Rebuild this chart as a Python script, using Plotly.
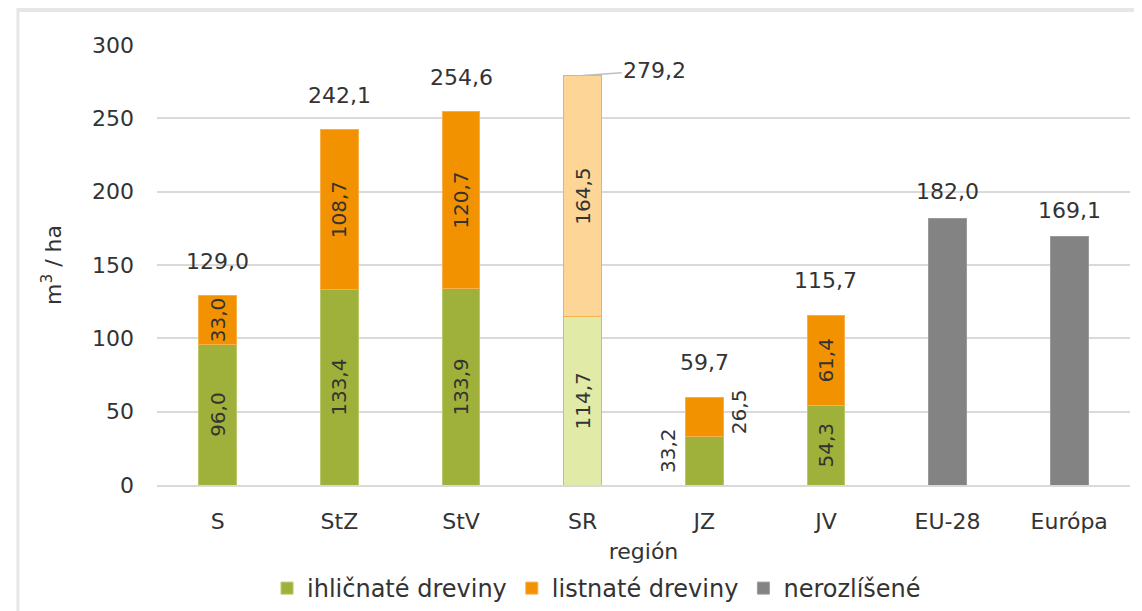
import plotly.graph_objects as go

categories = ["S", "StZ", "StV", "SR", "JZ", "JV", "EU-28", "Európa"]
ihlicnate = [96.0, 133.4, 133.9, 114.7, 33.2, 54.3, None, None]
listnate = [33.0, 108.7, 120.7, 164.5, 26.5, 61.4, None, None]
nerozlisene = [None, None, None, None, None, None, 182.0, 169.1]
totals = [129.0, 242.1, 254.6, 279.2, 59.7, 115.7, 182.0, 169.1]

GREEN = "#9fb13a"
GREEN_LIGHT = "#e1eaa6"
ORANGE = "#f39200"
ORANGE_LIGHT = "#fdd597"
GRAY = "#838383"
TXT = "#333333"
FONT = "DejaVu Sans"

green_cols = [GREEN_LIGHT if c == "SR" else GREEN for c in categories]
orange_cols = [ORANGE_LIGHT if c == "SR" else ORANGE for c in categories]
inside_tpl = ["" if c == "JZ" else "%{y:.1f}" for c in categories]

fig = go.Figure()
fig.add_trace(go.Bar(
    x=categories, y=ihlicnate, name="ihličnaté dreviny",
    marker=dict(color=green_cols, line=dict(color="#b8c86a", width=1)),
    texttemplate=inside_tpl, textposition="inside", textangle=-90,
    insidetextanchor="middle", constraintext="none",
    textfont=dict(size=20, color=TXT, family=FONT),
))
fig.add_trace(go.Bar(
    x=categories, y=listnate, name="listnaté dreviny",
    marker=dict(color=orange_cols, line=dict(color="#f7b04a", width=1)),
    texttemplate=inside_tpl, textposition="inside", textangle=-90,
    insidetextanchor="middle", constraintext="none",
    textfont=dict(size=20, color=TXT, family=FONT),
))
fig.add_trace(go.Bar(
    x=categories, y=nerozlisene, name="nerozlíšené",
    marker=dict(color=GRAY, line=dict(color="#9a9a9a", width=1)),
))

def fmt(v):
    return f"{v:.1f}".replace(".", ",")

annotations = []
for c, t in zip(categories, totals):
    if c == "SR":
        annotations.append(dict(
            x=c, y=t, text=fmt(t), showarrow=True, arrowhead=0, arrowwidth=1.5,
            arrowcolor="#bfbfbf", ax=72, ay=-5, axref="pixel", ayref="pixel",
            font=dict(size=22, color=TXT, family=FONT)))
    else:
        shift = 12 if c in ("EU-28", "Európa") else 20
        annotations.append(dict(
            x=c, y=t, text=fmt(t), showarrow=False, yanchor="bottom",
            yshift=shift, font=dict(size=22, color=TXT, family=FONT)))

# JZ labels outside the bar
jz = categories.index("JZ")
annotations.append(dict(
    x="JZ", y=ihlicnate[jz] / 2, text=fmt(ihlicnate[jz]), showarrow=False,
    textangle=-90, xshift=-37, yshift=10,
    font=dict(size=20, color=TXT, family=FONT)))
annotations.append(dict(
    x="JZ", y=ihlicnate[jz] + listnate[jz] / 2, text=fmt(listnate[jz]),
    showarrow=False, textangle=-90, xshift=35, yshift=5,
    font=dict(size=20, color=TXT, family=FONT)))

fig.update_layout(
    barmode="stack",
    bargap=0.69,
    width=1134, height=603,
    margin=dict(l=149, r=12, t=37, b=126, autoexpand=False),
    paper_bgcolor="white", plot_bgcolor="white",
    separators=", ",
    font=dict(family=FONT, size=21, color=TXT),
    annotations=annotations,
    showlegend=True,
    legend=dict(orientation="h", xref="container", yref="container",
                x=0.519, xanchor="center", y=-0.016, yanchor="bottom",
                font=dict(size=24, color=TXT, family=FONT),
                traceorder="normal", itemwidth=30),
    shapes=[
        dict(type="line", xref="paper", yref="paper", x0=-0.1429, x1=1.02,
             y0=1.0795, y1=1.0795, line=dict(color="#e6e6e6", width=4)),
        dict(type="line", xref="paper", yref="paper", x0=-0.1429, x1=-0.1429,
             y0=-0.3, y1=1.11, line=dict(color="#e6e6e6", width=3)),
    ],
)
fig.update_yaxes(
    range=[0, 300], dtick=50, showgrid=True, gridcolor="#d9d9d9", gridwidth=1.5,
    zeroline=False, showline=False, ticklabelstandoff=22, automargin=False,
    tickfont=dict(size=22, color=TXT, family=FONT),
    title=dict(text="m<sup>3</sup> / ha", standoff=24,
               font=dict(size=22, color=TXT, family=FONT)),
)
fig.update_xaxes(
    showline=True, linecolor="#d9d9d9", linewidth=1.5, ticks="", automargin=False,
    ticklabelstandoff=16, tickfont=dict(size=22, color=TXT, family=FONT),
    title=dict(text="región", standoff=10, font=dict(size=22, color=TXT, family=FONT)),
)

fig.write_html("out.html")
